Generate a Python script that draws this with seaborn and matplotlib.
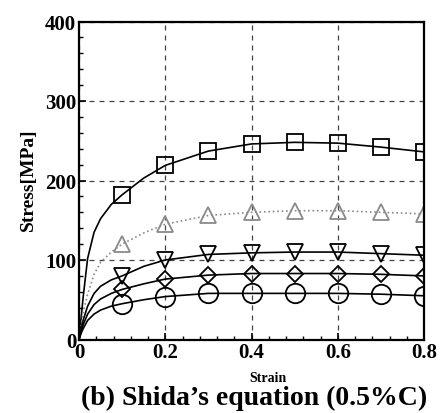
import matplotlib
matplotlib.use("Agg")
import matplotlib.pyplot as plt
from matplotlib.ticker import MultipleLocator
import seaborn as sns
import pandas as pd

# marker positions (strain, stress in MPa)
strain_pts = [0.1, 0.2, 0.3, 0.4, 0.5, 0.6, 0.7, 0.8]
square_pts = [182, 219, 237, 246, 248, 247, 242, 236]
tri_up_pts = [120, 145, 156, 160, 162, 162, 160, 158]
tri_dn_pts = [80, 100, 107, 109, 110, 110, 108, 106]
diamond_pts = [63, 76, 81, 83, 83, 83, 82, 80]
circle_pts = [45, 54, 58, 58, 58, 58, 57, 55]

# curves
line_strain = [0, 0.005, 0.01, 0.02, 0.035, 0.05, 0.075, 0.1, 0.15, 0.2, 0.3, 0.4, 0.5, 0.6, 0.7, 0.8]
square_line = [0, 28, 55, 102, 135, 152, 170, 182, 203, 219, 237, 246, 248, 247, 242, 236]
tri_up_line = [0, 18, 35, 57, 82, 97, 110, 120, 134, 145, 156, 160, 162, 162, 160, 158]
tri_dn_line = [0, 13, 25, 42, 58, 67, 75, 80, 92, 100, 107, 109, 110, 110, 108, 106]
diamond_line = [0, 10, 19, 32, 44, 51, 58, 63, 70, 76, 81, 83, 83, 83, 82, 80]
circle_line = [0, 8, 14, 24, 32, 37, 42, 45, 50, 54, 58, 58, 58, 58, 57, 55]

sns.set_theme(style="ticks")
plt.rcParams['font.family'] = ['Liberation Serif', 'DejaVu Serif']
plt.rcParams['font.weight'] = 'bold'
plt.rcParams['text.color'] = 'black'
plt.rcParams['axes.labelcolor'] = 'black'

fig = plt.figure(figsize=(4.4, 4.14), dpi=100)
ax = fig.add_axes([79 / 440, 1 - 340.5 / 414, 345 / 440, 318 / 414])

series = [
    (square_line, square_pts, 's', 11, 'black', '-'),
    (tri_up_line, tri_up_pts, '^', 11, '#8a8a8a', ':'),
    (tri_dn_line, tri_dn_pts, 'v', 11, 'black', '-'),
    (diamond_line, diamond_pts, 'D', 8.5, 'black', '-'),
    (circle_line, circle_pts, 'o', 14, 'black', '-'),
]

for line_vals, pt_vals, mk, ms, col, ls in series:
    curve = pd.DataFrame({'strain': line_strain, 'stress': line_vals})
    pts = pd.DataFrame({'strain': strain_pts, 'stress': pt_vals})
    sns.lineplot(data=curve, x='strain', y='stress', ax=ax, color=col,
                 linestyle=ls, linewidth=1.2, sort=False)
    sns.lineplot(data=pts, x='strain', y='stress', ax=ax, color=col,
                 linestyle='none', marker=mk, markersize=ms,
                 markerfacecolor='none', markeredgecolor=col, markeredgewidth=1.3)

ax.set_xlim(0, 0.8)
ax.set_ylim(0, 400)
ax.xaxis.set_minor_locator(MultipleLocator(0.04))
ax.yaxis.set_minor_locator(MultipleLocator(20))
ax.set_xticks([0, 0.2, 0.4, 0.6, 0.8])
ax.set_xticklabels(['0', '0.2', '0.4', '0.6', '0.8'])
ax.set_yticks([0, 100, 200, 300, 400])
ax.set_yticklabels(['0', '100', '200', '300', '400'])

ax.tick_params(which='major', direction='in', length=5, width=1.2,
               labelsize=15, pad=2, color='black', labelcolor='black')
ax.tick_params(which='minor', direction='in', length=3, width=1, color='black')
for s in ax.spines.values():
    s.set_linewidth(1.6)
    s.set_color('black')
    s.set_visible(True)

ax.grid(True, which='major', linestyle=(0, (4, 4)), linewidth=0.9, color='#444444')

ax.set_xlabel('Strain', fontsize=10, fontweight='bold')
ax.xaxis.set_label_coords(0.549, -0.099)
ax.set_ylabel('Stress[MPa]', fontsize=14, fontweight='bold')
ax.yaxis.set_label_coords(-0.122, 0.505)

fig.text(254 / 440, 1 - 398 / 414, '(b) Shida\u2019s equation (0.5%C)',
         ha='center', va='center', fontsize=20, fontweight='bold')

fig.savefig('out.png', dpi=100)
